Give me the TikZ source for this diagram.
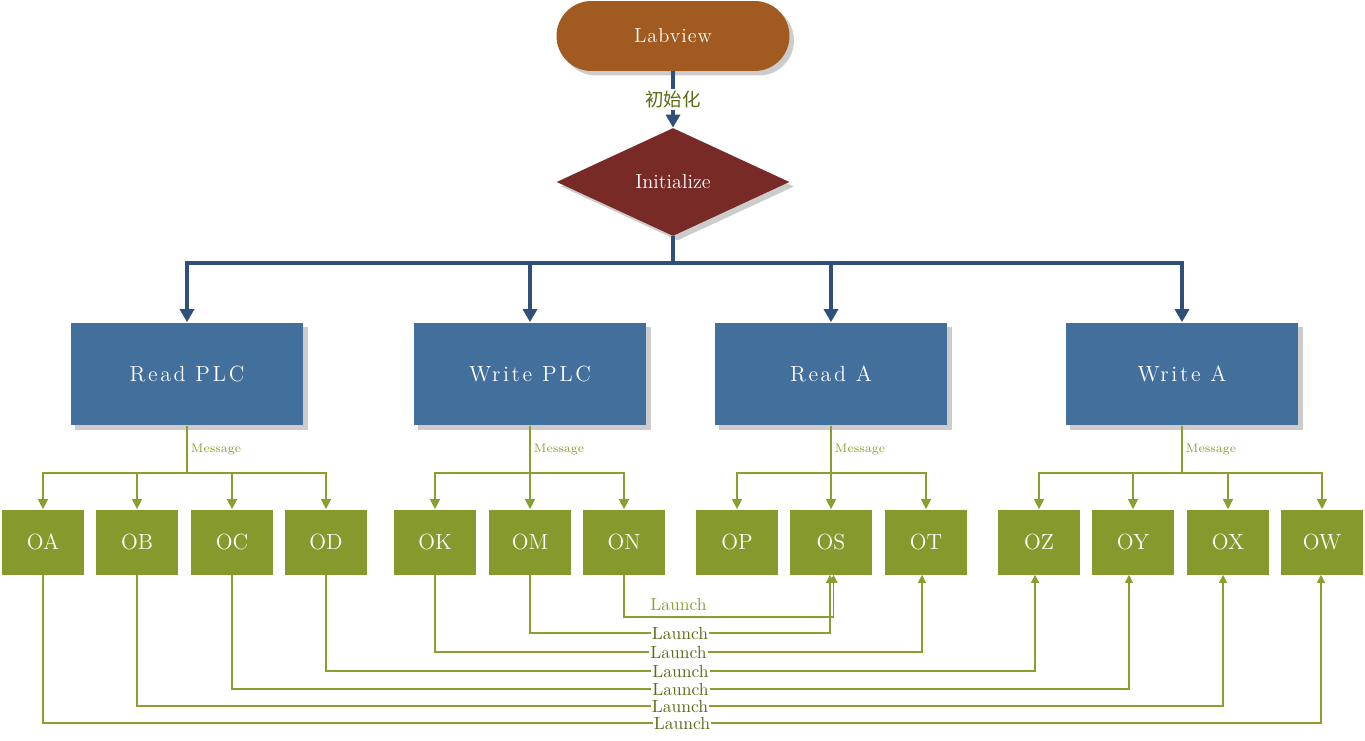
\documentclass[tikz,border=0pt]{standalone}
\usepackage{fontspec}
\newfontfamily\cjkfont{Noto Sans CJK SC}
\newfontfamily\spacedfont{Latin Modern Roman}[LetterSpace=12]
\newfontfamily\lightspacedfont{Latin Modern Roman}[LetterSpace=5]
\usepackage{xcolor}
\definecolor{rustbrown}{HTML}{A15A1F}
\definecolor{winered}{HTML}{772A26}
\definecolor{steelblue}{HTML}{436F9C}
\definecolor{navyline}{HTML}{2F5179}
\definecolor{olivebox}{HTML}{85992C}
\definecolor{oliveline}{HTML}{87A030}
\definecolor{olivetext}{HTML}{5B6B16}
\usepackage{tikz}
\usetikzlibrary{positioning, shapes.geometric, shadows, arrows.meta}

\begin{document}
\begin{tikzpicture}[x=0.02cm, y=-0.02cm,
  boxshadow/.style={drop shadow={shadow xshift=0.09cm, shadow yshift=-0.09cm, fill=black, opacity=0.2}},
  labviewbox/.style={fill=rustbrown, rounded corners=0.7cm, minimum width=4.66cm, minimum height=1.4cm,
    text=white, font=\lightspacedfont\fontsize{11.5}{14}\selectfont, boxshadow},
  initbox/.style={diamond, fill=winered, minimum width=4.66cm, minimum height=2.16cm, inner sep=0pt,
    text=white, font=\fontsize{11.5}{13}\selectfont, boxshadow},
  taskbox/.style={fill=steelblue, minimum width=4.66cm, minimum height=2.06cm,
    text=white, font=\spacedfont\fontsize{12.5}{15}\selectfont, boxshadow},
  leafbox/.style={fill=olivebox, minimum width=1.64cm, minimum height=1.3cm,
    text=white, font=\fontsize{12.5}{14}\selectfont},
  trunk/.style={line width=2.2pt, color=navyline, -{Triangle[length=0.26cm, width=0.28cm]}},
  msg/.style={line width=0.7pt, color=oliveline, -{Triangle[length=0.2cm, width=0.2cm]}},
  launch/.style={line width=0.7pt, color=oliveline, -{Triangle[length=0.16cm, width=0.16cm]}},
  msgtext/.style={text=oliveline, font=\fontsize{7}{8}\selectfont, inner sep=2pt},
  launchtext/.style={fill=white, inner sep=0.5pt, text=olivetext, font=\fontsize{10}{11}\selectfont}]
  \useasboundingbox (0,0) rectangle (1365,740);

  % top of the chart
  \node[labviewbox] (lv) at (673,36) {Labview};
  \node[initbox] (init) at (673,182) {Initialize};
  \draw[trunk] (lv) -- node[fill=white, inner sep=1pt, text=olivetext, font=\cjkfont\fontsize{10.5}{12}\selectfont] (cn) {初始化} (init);

  % the four tasks
  \foreach \b/\x/\t in {RP/187/Read PLC, WP/530/Write PLC, RA/831/Read A, WA/1182/Write A} {
    \node[taskbox] (\b) at (\x,374) {\t};
    \draw[trunk] (init.south) -- (init.south |- 0,263) -| (\b.north);
    \path (\b.south) -- node[msgtext, right] (m\b) {Message} (\b.south |- 0,473);
  }

  % the leaves
  \foreach \n/\x in {OA/43, OB/137, OC/232, OD/326, OK/435, OM/530, ON/624,
                     OP/737, OS/831, OT/926, OZ/1039, OY/1133, OX/1228, OW/1322} {
    \node[leafbox] (\n) at (\x,542) {\n};
  }

  % messages
  \foreach \p/\c in {RP/OA, RP/OB, RP/OC, RP/OD, WP/OK, WP/OM, WP/ON,
                     RA/OP, RA/OS, RA/OT, WA/OZ, WA/OY, WA/OX, WA/OW} {
    \draw[msg] (\p.south) -- (\p.south |- 0,473) -| (\c.north);
  }

  % launches
  \draw[launch] (ON.south) -- (ON.south |- 0,617) -| node[pos=0.13, above=0pt, text=oliveline, font=\fontsize{10}{11}\selectfont] (l0) {Launch} ([xshift=0.05cm]OS.south);
  \foreach \s/\t/\y/\d in {OM/OS/633/-1, OK/OT/652/-4, OD/OZ/671/-4, OC/OY/689/-4, OB/OX/706/-5, OA/OW/723/-1} {
    \draw[launch] (\s.south) -- (\s.south |- 0,\y) -| node[pos=0.25, launchtext] (l\s) {Launch} ([xshift=\d*0.02cm]\t.south);
  }
\end{tikzpicture}
\end{document}
